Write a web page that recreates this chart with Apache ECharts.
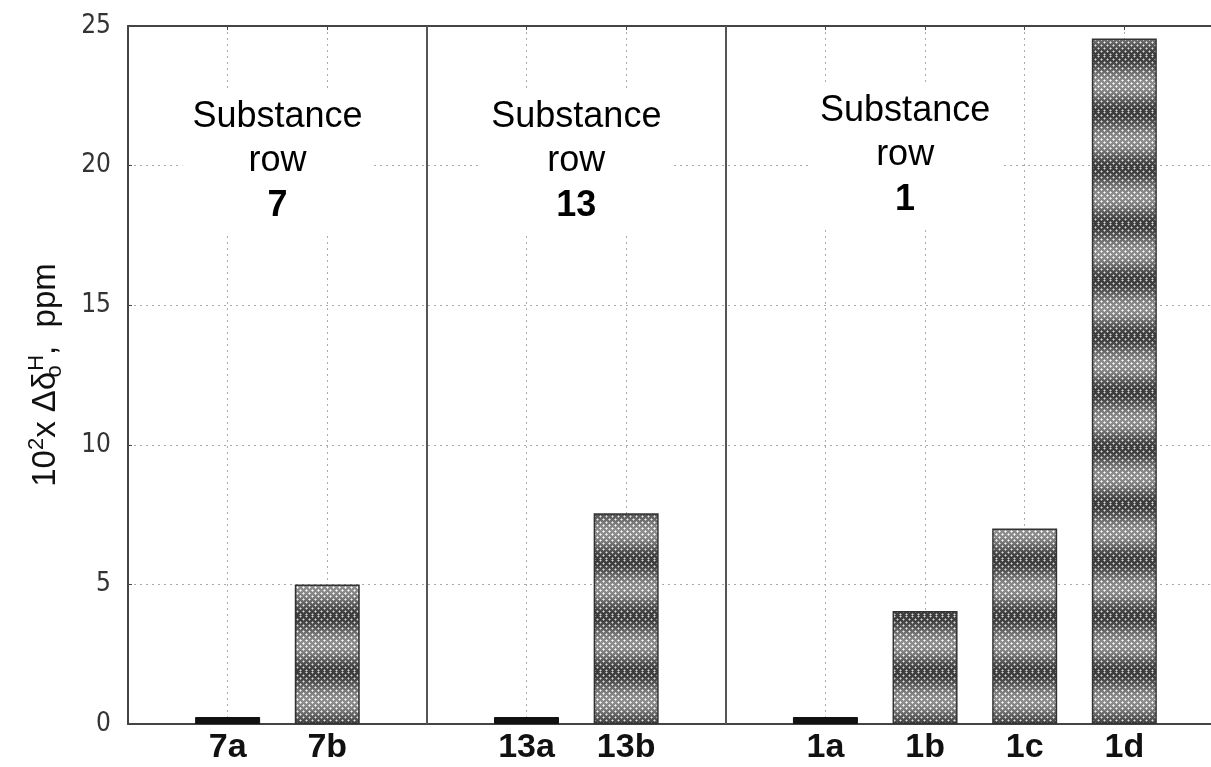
<!DOCTYPE html>
<html>
<head>
<meta charset="utf-8">
<script src="https://cdn.jsdelivr.net/npm/echarts@6/dist/echarts.min.js"></script>
<style>html,body{margin:0;padding:0;background:#fff}#c{width:1211px;height:767px}</style>
</head>
<body>
<div id="c"></div>
<script>
// x slots in order; '|' marks a group separator line
var xSlots = ['7a', '7b', '|', '13a', '13b', '|', '1a', '1b', '1c', '1d'];
// values for the non-separator slots, in order
var values = [0.25, 5.0, 0.25, 7.55, 0.25, 4.05, 7.0, 24.55];
var yTicks = [0, 5, 10, 15, 20, 25];
var groupNames = ['7', '13', '1'];
var groupCenters = [1.5, 4.5, 7.8];
var groupLabelY = [20.1, 20.1, 20.3];

function makePattern() {
  var w = 6, h = 56;
  var cv = document.createElement('canvas');
  cv.width = w; cv.height = h;
  var ctx = cv.getContext('2d');
  var img = ctx.createImageData(w, h);
  for (var y = 0; y < h; y++) {
    var m = 0.5 + 0.5 * Math.cos(2 * Math.PI * y / h);
    for (var x = 0; x < w; x++) {
      var d1 = Math.min(x % 6, 6 - x % 6) + Math.min(y % 6, 6 - y % 6);
      var d2 = Math.abs(x % 6 - 3) + Math.abs(y % 6 - 3);
      var d = Math.min(d1, d2);
      var v;
      if (d === 0) v = 252 - 40 * m;
      else if (d === 1) v = 215 - 75 * m;
      else v = 140 - 80 * m;
      var i = (y * w + x) * 4;
      img.data[i] = img.data[i + 1] = img.data[i + 2] = Math.round(v);
      img.data[i + 3] = 255;
    }
  }
  ctx.putImageData(img, 0, 0);
  return cv;
}
var pattern = { image: makePattern(), repeat: 'repeat' };

var barData = [];
var sepPositions = [];
var k = 0;
xSlots.forEach(function (s, i) {
  var pos = i + 1;
  if (s === '|') { sepPositions.push(pos); return; }
  var v = values[k++];
  barData.push({
    value: [pos, v],
    itemStyle: v < 0.5 ? { color: '#111', borderColor: '#111', borderWidth: 1 }
                       : { color: pattern, borderColor: '#333', borderWidth: 1.5 }
  });
});

var labelData = groupNames.map(function (g, i) {
  return { value: [groupCenters[i], groupLabelY[i]], name: g };
});

var fontNarrow = "'Liberation Sans Narrow', 'Arial Narrow', 'DejaVu Sans Condensed', sans-serif";
var fontSans = "'Liberation Sans', Arial, sans-serif";

var chart = echarts.init(document.getElementById('c'));
chart.setOption({
  animation: false,
  backgroundColor: '#fff',
  grid: { left: 128, right: 0, top: 26, bottom: 43 },
  xAxis: [{
    type: 'value', min: 0, max: 10.87, interval: 1, position: 'bottom',
    axisLine: { show: true, onZero: false, lineStyle: { color: '#444', width: 2 } },
    axisTick: { show: false },
    axisLabel: {
      showMinLabel: false, showMaxLabel: false, margin: 7,
      fontFamily: fontSans, fontWeight: 'bold', fontSize: 34, color: '#111',
      formatter: function (v) {
        var s = xSlots[Math.round(v) - 1];
        return (s && s !== '|' && Math.abs(v - Math.round(v)) < 1e-6) ? s : '';
      }
    },
    splitLine: { show: true, lineStyle: { color: '#aaa', type: [2, 4], width: 1 } }
  }, {
    type: 'value', min: 0, max: 10.87, interval: 1, position: 'top',
    axisLine: { show: true, onZero: false, lineStyle: { color: '#444', width: 2 } },
    axisTick: { show: true, inside: true, length: 4, lineStyle: { color: '#444' } },
    axisLabel: { show: false },
    splitLine: { show: false }
  }],
  yAxis: {
    type: 'value', min: yTicks[0], max: yTicks[yTicks.length - 1], interval: 5,
    axisLine: { show: true, onZero: false, lineStyle: { color: '#444', width: 2 } },
    axisTick: { show: true, inside: true, length: 4, lineStyle: { color: '#444' } },
    axisLabel: { margin: 17, fontFamily: fontNarrow, fontSize: 26, color: '#333' },
    splitLine: { show: true, lineStyle: { color: '#aaa', type: [2, 4], width: 1 } },
    name: '{n|10}{sup|2}{n|x Δδ}{sub|o}{sup2|H}{n|,  ppm}',
    nameLocation: 'middle', nameGap: 62, nameRotate: 90,
    nameTextStyle: {
      fontFamily: fontSans, fontSize: 33, color: '#111',
      rich: {
        n: { fontFamily: fontSans, fontSize: 33, color: '#111' },
        sup: { fontFamily: fontSans, fontSize: 22, color: '#111', verticalAlign: 'top', padding: [0, 0, 18, 0] },
        sup2: { fontFamily: fontSans, fontSize: 22, color: '#111', verticalAlign: 'top', padding: [0, 0, 18, 0] },
        sub: { fontFamily: fontSans, fontSize: 22, color: '#111', verticalAlign: 'bottom', padding: [10, 0, 0, 0], width: 1 }
      }
    }
  },
  series: [{
    type: 'bar', xAxisIndex: 0, barWidth: 65, data: barData,
    markLine: {
      silent: true, symbol: 'none', label: { show: false },
      lineStyle: { color: '#555', type: 'solid', width: 2 },
      data: sepPositions.map(function (p) { return { xAxis: p }; })
    }
  }, {
    type: 'scatter', symbolSize: 0, data: labelData, z: 5,
    itemStyle: { opacity: 1 },
    label: {
      show: true, position: 'inside', opacity: 1,
      backgroundColor: '#fff', padding: [4, 10, 6, 10],
      formatter: function (p) { return '{a|Substance}\n{a|row}\n{b|' + p.name + '}'; },
      rich: {
        a: { fontFamily: fontSans, fontSize: 36, color: '#000', lineHeight: 44, align: 'center' },
        b: { fontFamily: fontSans, fontSize: 36, fontWeight: 'bold', color: '#000', lineHeight: 46, align: 'center' }
      }
    }
  }]
});
</script>
</body>
</html>
